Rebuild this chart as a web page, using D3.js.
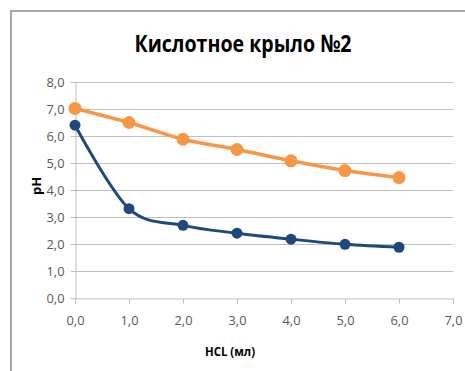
<!DOCTYPE html>
<html><head><meta charset="utf-8">
<script src="https://cdn.jsdelivr.net/npm/d3@7"></script>
<style>body{margin:0;background:#fff}svg{display:block}</style>
</head><body>
<script>
const titleText = "Кислотное крыло №2";
const xTitle = "HCL (мл)";
const yTitle = "pH";
const xValues = [0, 1, 2, 3, 4, 5, 6];
const seriesOrange = [7.02, 6.5, 5.88, 5.5, 5.08, 4.72, 4.46];
const seriesBlue = [6.4, 3.31, 2.69, 2.4, 2.18, 1.99, 1.88];
const xTicks = [0, 1, 2, 3, 4, 5, 6, 7];
const yTicks = [0, 1, 2, 3, 4, 5, 6, 7, 8];

const W = 465, H = 371;
const svg = d3.select("body").append("svg").attr("width", W).attr("height", H);
const fmt = d => d.toFixed(1).replace(".", ",");

// outer border (left & top)
svg.append("path").attr("d", "M11,371 V11 H465").attr("fill", "none").attr("stroke", "#8c8c8c").attr("stroke-width", 1.5);

const x = d3.scaleLinear().domain([0, 7]).range([75, 453]);
const y = d3.scaleLinear().domain([0, 8]).range([298, 82]);

// gridlines
svg.append("g").selectAll("line").data(yTicks.filter(d => d > 0)).join("line")
  .attr("x1", x(0)).attr("x2", x(7)).attr("y1", d => y(d) + 0.5).attr("y2", d => y(d) + 0.5)
  .attr("stroke", "#bfbfbf").attr("stroke-width", 1);

const font = "'Open Sans', 'Noto Sans', sans-serif";
const yAxis = svg.append("g").attr("transform", `translate(${x(0) + 0.5},0)`)
  .call(d3.axisLeft(y).tickValues(yTicks).tickFormat(fmt).tickSize(5).tickPadding(6));
const xAxis = svg.append("g").attr("transform", `translate(0,${y(0) + 0.5})`)
  .call(d3.axisBottom(x).tickValues(xTicks).tickFormat(fmt).tickSize(5).tickPadding(12));
[yAxis, xAxis].forEach(g => {
  g.select(".domain").attr("stroke", "#bfbfbf");
  g.selectAll(".tick line").attr("stroke", "#bfbfbf");
  g.selectAll("text").attr("fill", "#595959").style("font-family", font).style("font-size", "13px")
    .attr("textLength", 18).attr("lengthAdjust", "spacingAndGlyphs");
});

// lines
const lineSmooth = d3.line().x((d, i) => x(xValues[i])).y(d => y(d)).curve(d3.curveCardinal.tension(0));

svg.append("path").datum(seriesOrange).attr("d", lineSmooth).attr("fill", "none")
  .attr("stroke", "#f79646").attr("stroke-width", 3.5);
svg.append("g").selectAll("circle").data(seriesOrange).join("circle")
  .attr("cx", (d, i) => x(xValues[i])).attr("cy", d => y(d)).attr("r", 6.5).attr("fill", "#f79646");

svg.append("path").datum(seriesBlue).attr("d", lineSmooth).attr("fill", "none")
  .attr("stroke", "#1f497d").attr("stroke-width", 3);
svg.append("g").selectAll("circle").data(seriesBlue).join("circle")
  .attr("cx", (d, i) => x(xValues[i])).attr("cy", d => y(d)).attr("r", 5.5).attr("fill", "#1f497d");

// titles
svg.append("text").attr("x", 243).attr("y", 52).attr("text-anchor", "middle")
  .style("font-family", font).style("font-weight", "bold").style("font-size", "24px").attr("fill", "#000")
  .attr("textLength", 217).attr("lengthAdjust", "spacingAndGlyphs")
  .text(titleText);
svg.append("text").attr("x", 230).attr("y", 356).attr("text-anchor", "middle")
  .style("font-family", font).style("font-weight", "bold").style("font-size", "13px").attr("fill", "#000")
  .attr("textLength", 50).attr("lengthAdjust", "spacingAndGlyphs")
  .text(xTitle);
svg.append("text").attr("transform", "translate(41,186) rotate(-90)").attr("text-anchor", "middle")
  .style("font-family", font).style("font-weight", "bold").style("font-size", "13px").attr("fill", "#000")
  .text(yTitle);
</script>
</body></html>
